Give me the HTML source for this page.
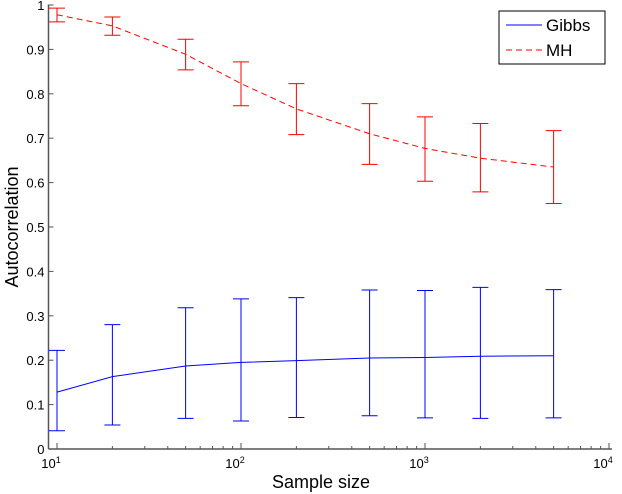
<!DOCTYPE html>
<html><head><meta charset="utf-8"><style>
body{margin:0;background:#fff}
svg{display:block;font-family:"Liberation Sans",Arial,sans-serif}
</style></head><body>
<svg id="chart" width="622" height="494" viewBox="0 0 622 494">
<g id="axes"></g>
<g id="marks"></g>
<text x="321" y="488" font-size="18" text-anchor="middle">Sample size</text>
<text x="0" y="0" font-size="18" text-anchor="middle" transform="translate(18,227) rotate(-90)">Autocorrelation</text>
<g>
<rect x="499" y="11" width="106" height="53" fill="#fff" stroke="#000" stroke-width="1"/>
<g><line x1="506" y1="25" x2="542" y2="25" stroke="#00f"/><text x="546" y="31" font-size="17">Gibbs</text></g>
<g><line x1="506" y1="50" x2="542" y2="50" stroke="#f00" stroke-dasharray="6,4"/><text x="546" y="56" font-size="17">MH</text></g>
</g>
</svg>
<script>
const sampleSizes=[10,20,50,100,200,500,1000,2000,5000];
const mhMean=[0.978,0.953,0.889,0.823,0.766,0.710,0.677,0.655,0.635];
const mhUpper=[0.993,0.973,0.923,0.872,0.823,0.778,0.748,0.733,0.717];
const mhLower=[0.962,0.932,0.854,0.773,0.708,0.641,0.603,0.579,0.553];
const gibbsMean=[0.128,0.163,0.187,0.195,0.199,0.205,0.206,0.209,0.210];
const gibbsUpper=[0.222,0.280,0.318,0.338,0.341,0.358,0.357,0.364,0.359];
const gibbsLower=[0.041,0.054,0.069,0.063,0.071,0.075,0.070,0.069,0.070];
const yTicks=[0,0.1,0.2,0.3,0.4,0.5,0.6,0.7,0.8,0.9,1];
const yTickLabels=["0","0.1","0.2","0.3","0.4","0.5","0.6","0.7","0.8","0.9","1"];
const xDecades=[1,2,3,4];

const NS='http://www.w3.org/2000/svg';
const X0=48.5,Y0=449,Y1=5,DEC=184,XL=57;
const xs=v=>XL+(Math.log10(v)-1)*DEC;
const ys=v=>Y0-(Y0-Y1)*v;
function mk(tag,attrs,parent){const e=document.createElementNS(NS,tag);for(const k in attrs)e.setAttribute(k,attrs[k]);parent.appendChild(e);return e;}
const axes=document.getElementById('axes'),marks=document.getElementById('marks');

let a=mk('line',{x1:X0,y1:Y1-0.5,x2:X0,y2:Y0,stroke:'#555','stroke-width':1.5},axes);


a=mk('line',{x1:X0,y1:Y0,x2:612,y2:Y0,stroke:'#555','stroke-width':1.5},axes);


yTicks.forEach((t,i)=>{
  mk('line',{x1:X0,y1:ys(t),x2:X0+5,y2:ys(t),stroke:'#555'},axes);
  const tx=mk('text',{x:X0-4,y:ys(t)+5,'font-size':13,'text-anchor':'end'},axes);
  tx.textContent=yTickLabels[i];
  
  
});
xDecades.forEach(d=>{
  const x=XL+(d-1)*DEC;
  mk('line',{x1:x,y1:Y0,x2:x,y2:Y0-6,stroke:'#555'},axes);
  const tx=mk('text',{x:x-6,y:Y0+19,'font-size':13,'text-anchor':'middle'},axes);
  tx.textContent='10';
  const s=mk('tspan',{dy:-5,'font-size':9},tx);s.textContent=d;
  
  
  if(d<4)for(let m=2;m<10;m++){const xm=XL+(d-1+Math.log10(m))*DEC;mk('line',{x1:xm,y1:Y0,x2:xm,y2:Y0-3,stroke:'#555'},axes);}
});

function series(mean,up,lo,color,dash,name){
  const g=mk('g',{},marks);
  
  
  const pts=sampleSizes.map((s,i)=>xs(s)+','+ys(mean[i])).join(' ');
  const p=mk('polyline',{points:pts,fill:'none',stroke:color,'stroke-width':1},g);
  if(dash)p.setAttribute('stroke-dasharray',dash);
  sampleSizes.forEach((s,i)=>{
    const x=xs(s);
    const e=mk('path',{d:`M${x},${ys(up[i])}V${ys(lo[i])}M${x-8},${ys(up[i])}H${x+8}M${x-8},${ys(lo[i])}H${x+8}`,stroke:color,fill:'none','stroke-width':1},g);
    
    
  });
}
series(gibbsMean,gibbsUpper,gibbsLower,'#00f',null,'gibbs-series');
series(mhMean,mhUpper,mhLower,'#f00','6,4','mh-series');
</script>
</body></html>
